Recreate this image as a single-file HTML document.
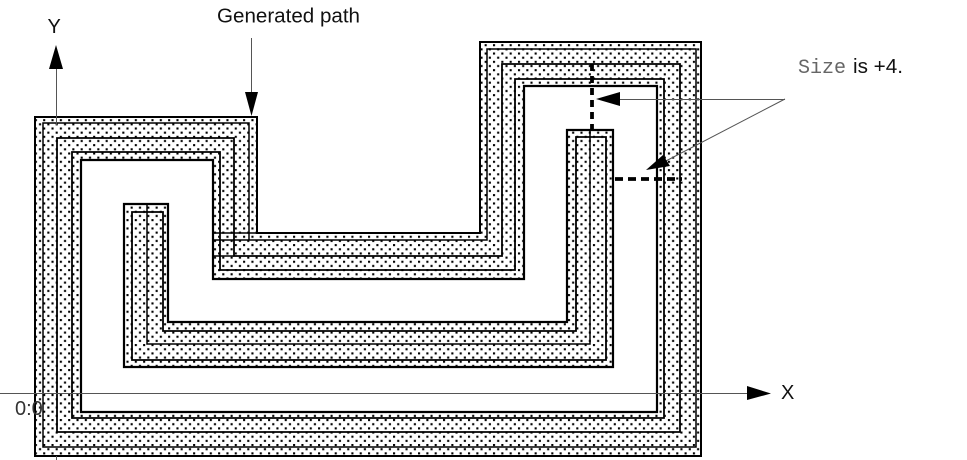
<!DOCTYPE html>
<html><head><meta charset="utf-8"><style>
html,body{margin:0;padding:0;background:#fff;width:967px;height:460px;overflow:hidden}
svg{display:block}
text{font-family:"Liberation Sans",sans-serif;font-size:20px;fill:#111}
</style></head><body>
<svg width="967" height="460" viewBox="0 0 967 460" xmlns="http://www.w3.org/2000/svg">
<defs>
<pattern id="d" patternUnits="userSpaceOnUse" x="1.5" y="2.5" width="8.33" height="8.33">
<rect x="0" y="0" width="2.1" height="2.1" fill="#000"/>
<rect x="4.165" y="4.165" width="2.1" height="2.1" fill="#000"/>
</pattern>
</defs>
<rect width="967" height="460" fill="#fff"/>
<!-- ring -->
<polygon points="35,117 257,117 257,233 480,233 480,42 701,42 701,456 35,456" fill="url(#d)"/>
<polygon points="81,160 213,160 213,279 524,279 524,86 657,86 657,412 81,412" fill="#fff"/>
<g fill="none" stroke="#000" stroke-linejoin="miter">
<polygon points="35,117 257,117 257,233 480,233 480,42 701,42 701,456 35,456" stroke-width="2"/>
<polygon points="43,123 249,123 249,240 487,240 487,49 696,49 696,447 43,447" stroke-width="1.5"/>
<polygon points="57,138 234,138 234,256 502,256 502,64 680,64 680,432 57,432" stroke-width="1.8"/>
<polygon points="72,152 220,152 220,270 515,270 515,79 664,79 664,418 72,418" stroke-width="1.8"/>
<polygon points="81,160 213,160 213,279 524,279 524,86 657,86 657,412 81,412" stroke-width="2.2"/>
<path d="M213,233H257M213,240H249M213,256H234" stroke-width="1.5"/>
</g>
<!-- prong U -->
<polygon points="124,204 168,204 168,322 567,322 567,130 613,130 613,367 124,367" fill="url(#d)"/>
<g fill="none" stroke="#000">
<polygon points="124,204 168,204 168,322 567,322 567,130 613,130 613,367 124,367" stroke-width="2.2"/>
<polygon points="132,212 163,212 163,331 576,331 576,137 606,137 606,360 132,360" stroke-width="1.8"/>
<polyline points="147,204 147,344 590,344 590,130" stroke-width="1.5"/>
</g>
<!-- dashed -->
<path d="M592,64V130" stroke="#000" stroke-width="3.8" fill="none" stroke-dasharray="7 5"/>
<path d="M615,179H682" stroke="#000" stroke-width="3.8" fill="none" stroke-dasharray="8 5"/>
<!-- axes -->
<g stroke="#555" stroke-width="1" fill="none">
<path d="M56.5,68V125"/>
<path d="M56.5,456V460"/>
<path d="M0,393.5H750"/>
<path d="M251.5,38V94"/>
<path d="M620,99.5H785"/>
<path d="M785,99L662,163"/>
</g>
<!-- arrowheads -->
<g fill="#000">
<polygon points="56,45 63,69 49,69"/>
<polygon points="251.500,116 245,92 258,92"/>
<polygon points="771,393.500 747,386 747,400"/>
<polygon points="596,99 620,92 620,106"/>
<polygon points="646,170 663,155 670,166"/>
</g>
<!-- labels -->
<text x="217" y="22.500" textLength="143" lengthAdjust="spacingAndGlyphs">Generated path</text>
<text x="47.500" y="33">Y</text>
<text x="781" y="399">X</text>
<text x="15" y="415" style="fill:#333">0:0</text>
<text x="798" y="73" style="font-family:'Liberation Mono',monospace;fill:#666">Size</text>
<text x="853" y="73" textLength="50" lengthAdjust="spacingAndGlyphs">is +4.</text>
</svg>
</body></html>
